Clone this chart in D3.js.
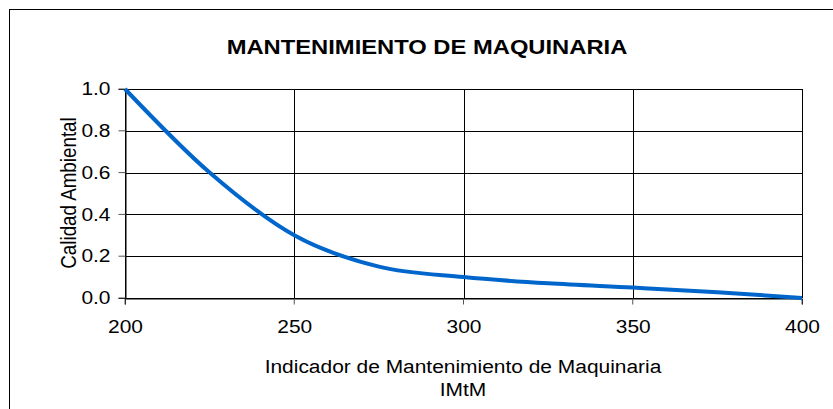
<!DOCTYPE html>
<html>
<head>
<meta charset="utf-8">
<script src="https://cdn.jsdelivr.net/npm/d3@7"></script>
<style>
  html, body { margin: 0; padding: 0; background: #fff; }
  svg { display: block; font-family: "Liberation Sans", Arial, sans-serif; }
</style>
</head>
<body>
<svg id="chart" width="833" height="409"></svg>
<script>
// IMtM values and the environmental quality they map to
const imtm = [200, 225, 250, 275, 300, 325, 350, 375, 400];
const calidad = [1.0, 0.6, 0.3, 0.15, 0.1, 0.07, 0.05, 0.028, 0.0];
const xTicks = [200, 250, 300, 350, 400];
const yTicks = [0.0, 0.2, 0.4, 0.6, 0.8, 1.0];
const title = "MANTENIMIENTO DE MAQUINARIA";
const xTitle = ["Indicador de Mantenimiento de Maquinaria", "IMtM"];
const yTitle = "Calidad Ambiental";

const svg = d3.select("#chart");
const plot = { left: 125, right: 802, top: 89, bottom: 298 };
const fontSize = 17.6;   // regular text
const stretch = 1.19;    // text is set slightly wide

// Outer frame
svg.append("rect")
  .attr("x", 9.5).attr("y", 9.5)
  .attr("width", 840).attr("height", 420)
  .attr("fill", "none").attr("stroke", "#000").attr("stroke-width", 1);

const x = d3.scaleLinear().domain([200, 400]).range([plot.left, plot.right]);
const y = d3.scaleLinear().domain([0, 1]).range([plot.bottom, plot.top]);

// Horizontal gridlines
svg.append("g").selectAll("line").data(yTicks).join("line")
  .attr("x1", plot.left).attr("x2", plot.right)
  .attr("y1", d => Math.round(y(d)) + 0.5).attr("y2", d => Math.round(y(d)) + 0.5)
  .attr("stroke", "#000").attr("stroke-width", 1);

// Vertical gridlines
svg.append("g").selectAll("line").data(xTicks).join("line")
  .attr("x1", d => Math.round(x(d)) + 0.5).attr("x2", d => Math.round(x(d)) + 0.5)
  .attr("y1", plot.top).attr("y2", plot.bottom)
  .attr("stroke", "#000").attr("stroke-width", 1);

// Axes with outward tick marks
const xAxis = svg.append("g")
  .attr("transform", `translate(0,${Math.round(y(0)) + 0.5})`)
  .call(d3.axisBottom(x).tickValues(xTicks).tickSize(6).tickPadding(16).tickFormat(d3.format("d")));
const yAxis = svg.append("g")
  .attr("transform", `translate(${Math.round(x(200)) + 0.5},0)`)
  .call(d3.axisLeft(y).tickValues(yTicks).tickSize(7).tickPadding(8).tickFormat(d3.format(".1f")));
[xAxis, yAxis].forEach(g => {
  g.select(".domain").attr("stroke", "#000");
  g.selectAll(".tick line").attr("stroke", "#555");
  g.selectAll(".tick text").each(function () {
    const t = d3.select(this);
    const tx = +t.attr("x") || 0;
    const ty = +t.attr("y") || 0;
    t.attr("x", 0).attr("y", 0)
      .attr("transform", `translate(${tx},${ty}) scale(${stretch},1)`)
      .attr("fill", "#000")
      .style("font-family", "'Liberation Sans', Arial, sans-serif")
      .style("font-size", fontSize + "px");
  });
});
xAxis.selectAll(".tick line").attr("transform", "translate(-0.5,0)");
yAxis.selectAll(".tick line").attr("transform", "translate(0,-0.5)");

// Smoothed series line
const line = d3.line()
  .x((d, i) => x(imtm[i]))
  .y(d => y(d))
  .curve(d3.curveCardinal.tension(0));
svg.append("path")
  .datum(calidad)
  .attr("d", line)
  .attr("fill", "none")
  .attr("stroke", "#0066CC")
  .attr("stroke-width", 4)
  .attr("stroke-linejoin", "round");

// Titles
svg.append("text")
  .attr("transform", `translate(427,54) scale(1.2,1)`)
  .attr("text-anchor", "middle")
  .style("font-size", "19.8px").style("font-weight", "bold")
  .text(title);

svg.append("text")
  .attr("transform", `translate(463,373) scale(${stretch},1)`)
  .attr("text-anchor", "middle")
  .style("font-size", fontSize + "px")
  .text(xTitle[0]);
svg.append("text")
  .attr("transform", `translate(463,396) scale(${stretch},1)`)
  .attr("text-anchor", "middle")
  .style("font-size", fontSize + "px")
  .text(xTitle[1]);

svg.append("text")
  .attr("transform", `translate(76,193) rotate(-90) scale(1,${stretch})`)
  .attr("text-anchor", "middle")
  .style("font-size", "18.8px")
  .text(yTitle);
</script>
</body>
</html>
